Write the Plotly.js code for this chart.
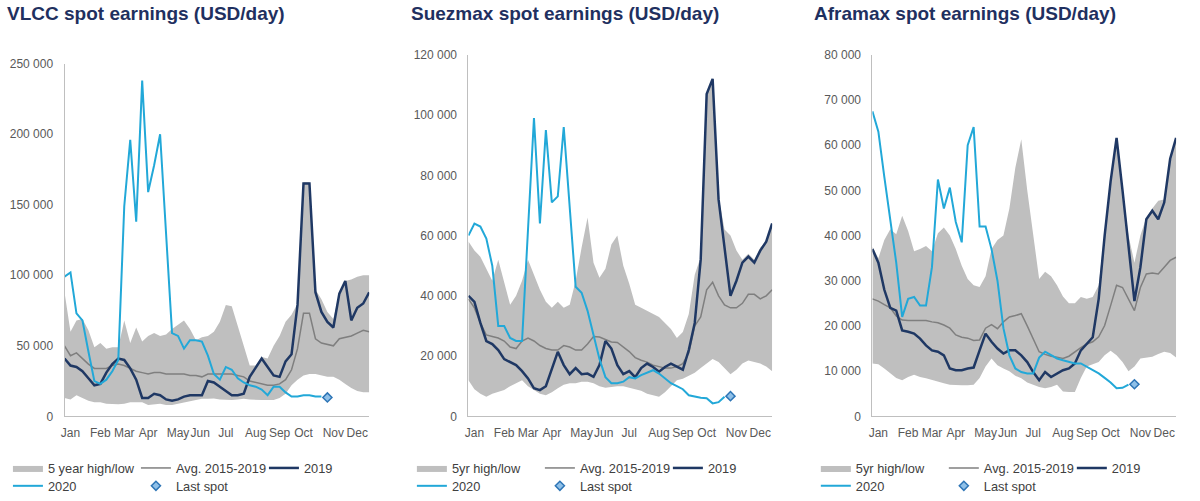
<!DOCTYPE html>
<html>
<head>
<meta charset="utf-8">
<script src="https://cdn.plot.ly/plotly-3.0.1.min.js"></script>
<style>
  html, body { margin: 0; padding: 0; background: #ffffff; }
  #chart { width: 1200px; height: 501px; }
</style>
</head>
<body>
<div id="chart"></div>
<script>
// ---------- categories ----------
const weeks = [1,2,3,4,5,6,7,8,9,10,11,12,13,14,15,16,17,18,19,20,21,22,23,24,25,26,
               27,28,29,30,31,32,33,34,35,36,37,38,39,40,41,42,43,44,45,46,47,48,49,50,51,52];
const months = ['Jan','Feb','Mar','Apr','May','Jun','Jul','Aug','Sep','Oct','Nov','Dec'];
const monthTickWeeks = [2,7,11,15,20,23.7,28,33,37,41,46,50];
const lastSpotWeek = 45;

// ---------- VLCC (USD/day) ----------
const vlccHigh = [88000,60000,68000,69000,61000,49000,52000,48000,49000,49000,68000,52000,63000,53000,57000,59000,57000,58000,62000,65000,68000,62000,54000,56000,57000,60000,67000,79000,78000,64000,50000,36000,36000,42000,41000,50000,57000,67000,72000,80000,166000,166000,90000,83000,74000,69000,88000,96000,97000,99000,100000,100000];
const vlccLow = [13000,12000,15000,13000,11000,10000,10000,9000,8500,8500,9000,10000,10000,10000,8000,8500,9000,8000,8000,9000,10000,11000,12000,12500,12500,12700,12000,11500,11500,12000,12500,12000,11500,11500,11500,11500,13000,16000,22000,26000,29000,30000,30000,29000,28000,28000,26000,23000,20000,18000,17000,17000];
const vlccAvg = [50000,43000,45000,41000,37000,34000,34000,34000,36000,37000,36000,34000,32000,31000,30000,31000,31000,30000,30000,30000,30000,29000,29000,28000,30000,30000,30000,30000,30000,29000,28000,25000,24000,23000,22000,22000,23000,26000,33000,48000,73000,73000,55000,52000,51000,50000,55000,56000,57000,59000,61000,60000];
const vlcc2019 = [41000,36000,35000,32000,27000,22000,23000,31000,37000,41000,40000,34000,26000,13000,13000,16000,15000,12000,11000,12000,14000,15000,15000,15000,25000,24000,21000,18000,15000,15000,16000,28000,35000,41000,35000,29000,28000,39000,44000,79000,165000,165000,88000,74000,67000,63000,87000,96000,68000,77000,80000,88000];
const vlcc2020 = [99000,102000,73000,68000,46000,25000,23000,26000,32000,40000,149000,196000,138000,238000,159000,178000,200000,130000,59000,57000,48000,54000,54000,53000,43000,30000,26000,35000,33000,27000,24000,22000,21000,19000,15000,21000,21000,17000,14000,14000,15000,15000,14000,14000];
const vlccLastSpot = 13400;

// ---------- Suezmax (USD/day) ----------
const suezHigh = [58000,55000,53000,49000,45000,52000,44000,37000,40000,45000,52000,47000,42000,38000,36000,38000,36000,37000,45000,56000,66000,51000,46000,49000,57000,60000,50000,44000,37000,36000,35000,34000,33000,31000,29000,26000,28000,34000,47000,53000,107000,112000,73000,62000,60000,55000,52000,54000,52000,56000,58000,64000];
const suezLow = [12000,9000,7500,6500,7500,8200,8700,10000,11000,12000,10000,8700,7500,7000,8000,9300,10500,11000,11000,11500,11500,11000,10000,9500,9800,10000,10000,9500,9000,8500,7500,7000,6500,8000,10000,12000,12500,13500,14500,16000,17500,19000,18000,16000,14000,15500,17500,18500,18000,17500,16500,15000];
const suezAvg = [39000,36000,31000,27000,26500,26000,25000,23000,22500,25000,26000,25000,23500,22500,22000,22000,23500,23000,22000,22000,24000,26500,26300,25500,24700,24500,23000,21500,19500,18600,18000,17000,16500,16000,16000,16500,17500,21000,30000,33000,42000,44500,40000,37000,36000,36000,37500,40500,40500,39000,40000,42000];
const suez2019 = [40000,38000,31000,25000,24000,22000,19000,18000,17000,15000,12600,9300,8700,10000,16000,21400,17000,14000,16000,14000,14200,13100,17000,25000,22500,17000,14000,15000,13000,16000,17500,16400,14800,16400,17500,16400,15500,22000,31000,52000,107000,112000,72000,56000,40000,45000,51000,53000,51000,55000,58000,64000];
const suez2020 = [60000,64000,63000,59000,50000,30000,30000,26000,25000,25000,62000,99000,64000,95000,71000,73000,96000,70000,43000,41000,35000,27000,19000,13000,11000,11000,11500,13000,12600,13700,14600,15300,14200,12600,11000,10000,9000,7000,6500,6200,6000,4300,4700,6500];
const suezLastSpot = 6700;

// ---------- Aframax (USD/day) ----------
const afraHigh = [37500,35000,39000,41400,40300,44400,41000,36500,37000,37700,36500,40500,41800,40000,37000,33300,30400,29000,28600,31000,37000,39000,40000,46000,55000,61300,50000,40000,30400,32000,31000,29000,26500,25000,25000,26400,26000,26400,29000,41000,52000,61600,50000,40000,34000,40000,44000,46000,47700,48000,57000,61600];
const afraLow = [11700,11500,10600,9500,8500,8000,8700,9200,8700,8400,8000,7600,7300,7000,6900,6900,6900,7000,8500,11000,12800,11300,10600,10000,9000,8400,7500,7000,6500,6200,6500,7000,5500,5400,5400,8500,11000,11500,12000,13500,14500,13500,12000,10000,11000,12800,13000,13200,13800,14300,14000,13000];
const afraAvg = [26000,25500,24700,24000,22200,21300,21200,21200,21200,21200,20900,20700,20200,19500,18000,17500,17300,16800,16900,19500,20300,19400,20900,22000,22300,22700,20000,17000,14300,13700,13300,13100,12800,13300,14300,15200,16000,16500,17600,20100,24500,29000,28500,26000,23400,28500,31500,31700,31500,33000,34500,35200];
const afra2019 = [37000,34000,28000,24000,23400,19000,18700,18300,17200,15700,14600,14300,13500,10600,10200,10200,10600,10800,14600,18300,16500,15000,13900,14600,14600,13500,12000,9800,8000,9800,8700,9500,10200,10600,11700,14600,16100,17500,26000,40000,52000,61600,50000,38000,25500,33000,43600,45500,43600,47300,57000,61600];
const afra2020 = [67500,63000,53000,44000,34000,22000,26000,26400,24500,24500,33000,52400,46000,50600,43000,38500,60000,64000,42000,42000,37000,30000,19500,13500,10600,9800,9500,9500,13000,14300,13500,12800,12400,12000,11700,11700,11000,10200,9500,8500,7500,6200,6300,7000];
const afraLastSpot = 7100;

// ---------- styles ----------
const C_BAND = '#bfbfbf', C_AVG = '#7f7f7f', C_2019 = '#1f3864', C_2020 = '#22a8d8';
const FONT = 'Liberation Sans, Arial, Helvetica, sans-serif';

function panelTraces(ax, low, high, avg, y2019, y2020, last, bandName, lgA, lgB) {
  const xa = 'x' + (ax === 1 ? '' : ax), ya = 'y' + (ax === 1 ? '' : ax);
  return [
    {x: weeks, y: low, xaxis: xa, yaxis: ya, type: 'scatter', mode: 'lines',
     line: {width: 0, color: C_BAND}, showlegend: false, hoverinfo: 'skip'},
    {x: weeks, y: high, xaxis: xa, yaxis: ya, type: 'scatter', mode: 'lines', name: bandName,
     fill: 'tonexty', fillcolor: C_BAND, line: {width: 0, color: C_BAND}, legend: lgA},
    {x: weeks, y: avg, xaxis: xa, yaxis: ya, type: 'scatter', mode: 'lines', name: 'Avg. 2015-2019',
     line: {width: 1.5, color: C_AVG}, legend: lgA},
    {x: weeks, y: y2019, xaxis: xa, yaxis: ya, type: 'scatter', mode: 'lines', name: '2019',
     line: {width: 2.5, color: C_2019}, legend: lgA},
    {x: weeks.slice(0, y2020.length), y: y2020, xaxis: xa, yaxis: ya, type: 'scatter', mode: 'lines', name: '2020',
     line: {width: 2, color: C_2020}, legend: lgB},
    {x: [lastSpotWeek], y: [last], xaxis: xa, yaxis: ya, type: 'scatter', mode: 'markers', name: 'Last spot',
     marker: {symbol: 'diamond', size: 7, color: '#8fc0e8', line: {color: '#2e75b6', width: 1.5}}, legend: lgB}
  ];
}

const data = [].concat(
  panelTraces(1, vlccLow, vlccHigh, vlccAvg, vlcc2019, vlcc2020, vlccLastSpot, '5 year high/low', 'legend', 'legend2'),
  panelTraces(2, suezLow, suezHigh, suezAvg, suez2019, suez2020, suezLastSpot, '5yr high/low', 'legend3', 'legend4'),
  panelTraces(3, afraLow, afraHigh, afraAvg, afra2019, afra2020, afraLastSpot, '5yr high/low', 'legend5', 'legend6')
);

const W = 1200, H = 501;
function xa(l, r, anchor) {
  return {domain: [l / W, r / W], anchor: anchor, range: [1, 52], showline: true, linecolor: '#bfbfbf', linewidth: 1,
    showgrid: false, zeroline: false, tickmode: 'array', tickvals: monthTickWeeks, ticktext: months,
    tickangle: 0, ticks: 'outside', ticklen: 5, tickcolor: 'rgba(0,0,0,0)',
    tickfont: {size: 12, color: '#595959', family: FONT}, fixedrange: true};
}
function ya(top, bottom, max, dtick, anchor) {
  return {domain: [1 - bottom / H, 1 - top / H], anchor: anchor, range: [0, max], dtick: dtick, tick0: 0,
    showline: true, linecolor: '#bfbfbf', linewidth: 1, showgrid: false, zeroline: false,
    tickformat: ',d', ticks: 'outside', ticklen: 8, tickcolor: 'rgba(0,0,0,0)',
    tickfont: {size: 12, color: '#595959', family: FONT}, fixedrange: true};
}
function lg(xpx, ypx) {
  return {orientation: 'h', x: xpx / W, xanchor: 'left', y: 1 - ypx / H, yanchor: 'middle',
    bgcolor: 'rgba(0,0,0,0)', borderwidth: 0, entrywidth: 83, entrywidthmode: 'pixels',
    traceorder: 'normal', font: {size: 12.8, color: '#404040', family: FONT}};
}
function title(xpx, text) {
  return {xref: 'paper', yref: 'paper', x: xpx / W, y: 1 - 14 / H, xanchor: 'left', yanchor: 'middle',
    text: '<b>' + text + '</b>', showarrow: false, font: {size: 19, color: '#1f3060', family: FONT}};
}

const layout = {
  width: W, height: H, margin: {l: 0, r: 0, t: 0, b: 0},
  paper_bgcolor: '#ffffff', plot_bgcolor: '#ffffff',
  separators: ', ', font: {family: FONT, color: '#595959'},
  xaxis: xa(65, 372, 'y'), yaxis: ya(64, 418, 250000, 50000, 'x'),
  xaxis2: xa(472, 778, 'y2'), yaxis2: ya(55, 418, 120000, 20000, 'x2'),
  xaxis3: xa(879, 1185, 'y3'), yaxis3: ya(55, 418, 80000, 10000, 'x3'),
  legend: lg(8, 470), legend2: lg(8, 488),
  legend3: lg(415, 470), legend4: lg(415, 488),
  legend5: lg(822, 470), legend6: lg(822, 488),
  annotations: [
    title(5, 'VLCC spot earnings (USD/day)'),
    title(412, 'Suezmax spot earnings (USD/day)'),
    title(818, 'Aframax spot earnings (USD/day)')
  ],
  showlegend: true
};

Plotly.newPlot('chart', data, layout, {displayModeBar: false, staticPlot: true});
</script>
</body>
</html>
